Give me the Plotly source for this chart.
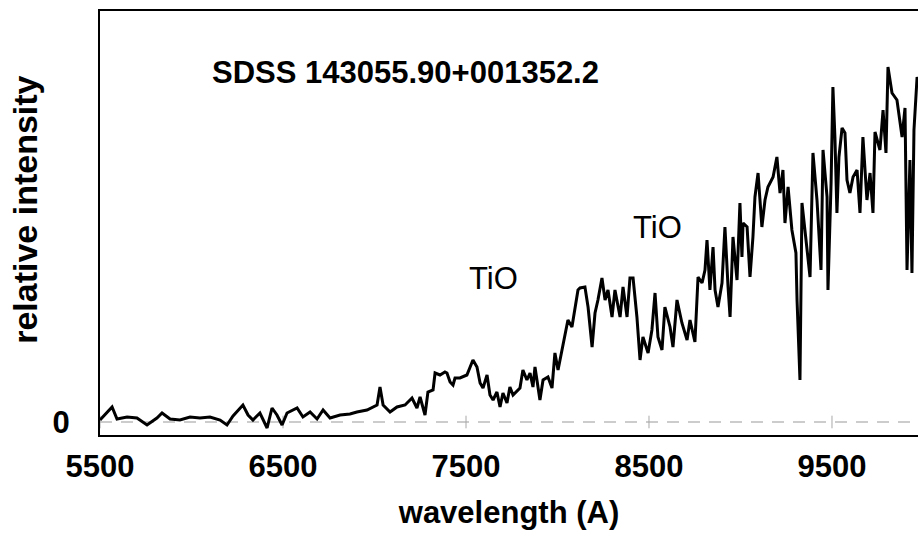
import plotly.graph_objects as go

# Spectrum (wavelength in Angstrom, relative intensity, arbitrary units)
wavelength = [
    5500, 5566, 5593, 5648, 5702, 5757, 5811, 5839, 5883, 5937, 5992, 6046, 6101, 6156, 6194,
    6227, 6281, 6309, 6336, 6374, 6413, 6440, 6467, 6495, 6522, 6577, 6609, 6648, 6686, 6719,
    6757, 6812, 6866, 6904, 6959, 7014, 7030, 7047, 7085, 7123, 7167, 7205, 7232, 7249, 7276,
    7292, 7320, 7331, 7358, 7385, 7396, 7413, 7429, 7440, 7467, 7505, 7538, 7560, 7577, 7593,
    7615, 7631, 7648, 7669, 7686, 7702, 7724, 7740, 7757, 7795, 7811, 7833, 7850, 7866, 7877,
    7904, 7921, 7948, 7970, 7986, 8003, 8025, 8041, 8057, 8079, 8096, 8112, 8123, 8150, 8167,
    8189, 8205, 8221, 8243, 8260, 8276, 8298, 8314, 8342, 8358, 8380, 8396, 8413, 8434, 8451,
    8467, 8495, 8516, 8533, 8549, 8571, 8587, 8615, 8631, 8653, 8680, 8708, 8724, 8751, 8768,
    8790, 8806, 8817, 8833, 8850, 8861, 8877, 8899, 8915, 8932, 8943, 8959, 8981, 8997, 9008,
    9014, 9036, 9052, 9068, 9079, 9096, 9117, 9134, 9150, 9178, 9199, 9216, 9232, 9243, 9260,
    9281, 9303, 9309, 9325, 9336, 9352, 9369, 9380, 9396, 9418, 9440, 9451, 9473, 9478, 9495,
    9505, 9516, 9527, 9538, 9555, 9571, 9582, 9598, 9615, 9637, 9653, 9669, 9691, 9708, 9724,
    9735, 9762, 9779, 9795, 9806, 9828, 9855, 9883, 9899, 9910, 9926, 9937, 9948, 9965, 9985,
]
intensity = [
    0.02, 0.15, 0.03, 0.05, 0.04, -0.03, 0.04, 0.09, 0.03, 0.02, 0.05, 0.04, 0.05, 0.02, -0.03,
    0.06, 0.17, 0.07, 0.02, 0.09, -0.06, 0.14, 0.07, -0.03, 0.09, 0.14, 0.05, 0.10, 0.03, 0.12,
    0.04, 0.07, 0.08, 0.10, 0.12, 0.17, 0.35, 0.17, 0.10, 0.15, 0.17, 0.24, 0.14, 0.25, 0.07,
    0.30, 0.32, 0.49, 0.47, 0.50, 0.49, 0.40, 0.37, 0.44, 0.44, 0.47, 0.62, 0.55, 0.39, 0.34,
    0.47, 0.27, 0.22, 0.30, 0.15, 0.29, 0.19, 0.35, 0.27, 0.34, 0.52, 0.42, 0.49, 0.35, 0.55,
    0.22, 0.42, 0.45, 0.34, 0.69, 0.52, 0.72, 0.85, 1.02, 0.95, 1.12, 1.32, 1.34, 1.35, 1.15,
    0.75, 1.09, 1.22, 1.44, 1.22, 1.32, 1.05, 1.32, 1.05, 1.35, 1.05, 1.44, 1.44, 1.05, 0.62,
    0.85, 0.69, 0.92, 1.29, 0.85, 0.72, 1.15, 0.95, 0.75, 1.22, 0.99, 0.82, 1.02, 0.80, 1.45,
    1.39, 1.52, 1.82, 1.32, 1.75, 1.32, 1.15, 1.39, 1.95, 1.35, 1.05, 1.85, 1.42, 2.19, 1.65,
    1.99, 1.95, 1.45, 1.85, 2.25, 2.49, 1.95, 2.22, 2.35, 2.45, 2.65, 2.29, 2.52, 1.99, 2.35,
    1.92, 1.69, 1.22, 0.42, 2.19, 1.92, 1.67, 1.45, 2.69, 2.22, 1.52, 2.72, 2.25, 1.32, 2.39,
    3.35, 2.85, 2.09, 2.65, 2.94, 2.89, 2.42, 2.29, 2.45, 2.52, 2.09, 2.85, 2.22, 2.49, 2.09,
    2.90, 2.72, 3.12, 2.69, 3.55, 3.29, 3.22, 2.85, 3.14, 1.52, 2.62, 1.49, 2.92, 3.45, 3.30,
]

tick_values = [5500, 6500, 7500, 8500, 9500]
tick_labels = ["5500", "6500", "7500", "8500", "9500"]
band_labels = ["TiO", "TiO"]
band_x = [7653, 8544]
band_y = [1.44, 1.95]
object_name = "SDSS 143055.90+001352.2"
y_title = "relative intensity"
x_title = "wavelength (A)"

x_range = [5500, 9970]
y_range = [-0.13, 4.11]

FONT = "Liberation Sans, Arial, Helvetica, sans-serif"

fig = go.Figure()

# zero reference (dashed)
fig.add_trace(go.Scatter(
    x=x_range, y=[0, 0], mode="lines",
    line=dict(color="#9a9a9a", width=1.2, dash="12px,9px"),
    hoverinfo="skip", showlegend=False,
))
# small tick marks on the zero line
fig.add_trace(go.Scatter(
    x=tick_values, y=[0] * len(tick_values), mode="markers",
    marker=dict(symbol="line-ns-open", size=9, color="#a8a8a8",
                line=dict(color="#a8a8a8", width=1)),
    hoverinfo="skip", showlegend=False,
))
# spectrum
fig.add_trace(go.Scatter(
    x=wavelength, y=intensity, mode="lines",
    line=dict(color="black", width=3),
    showlegend=False,
))

for lab, bx, by in zip(band_labels, band_x, band_y):
    fig.add_annotation(x=bx, y=by, text=lab, showarrow=False,
                       font=dict(family=FONT, size=31, color="black"))

fig.add_annotation(x=0.1345, y=0.855, xref="paper", yref="paper",
                   xanchor="left", yanchor="middle", text="<b>" + object_name + "</b>",
                   showarrow=False, font=dict(family=FONT, size=31, color="black"))

# y-axis title placed as rotated text
fig.add_annotation(x=-0.0917, y=0.531, xref="paper", yref="paper",
                   xanchor="center", yanchor="middle", textangle=-90,
                   text="<b>" + y_title + "</b>", showarrow=False,
                   font=dict(family=FONT, size=34, color="black"))

fig.update_layout(
    width=918, height=537,
    margin=dict(l=100, r=0, t=11, b=102),
    paper_bgcolor="white", plot_bgcolor="white",
    font=dict(family=FONT, color="black"),
    xaxis=dict(
        range=x_range, tickvals=tick_values, ticktext=tick_labels,
        showgrid=False, zeroline=False, showline=True, linecolor="black", linewidth=2,
        mirror=True, ticks="", ticklabelstandoff=3,
        tickfont=dict(family=FONT, size=31, color="black", weight="bold"),
        title=dict(text="<b>" + x_title + "</b>", font=dict(family=FONT, size=31, color="black"),
                   standoff=18),
    ),
    yaxis=dict(
        range=y_range, tickvals=[0], ticktext=["0"],
        showgrid=False, zeroline=False, showline=True, linecolor="black", linewidth=2,
        ticks="", ticklabelstandoff=22,
        tickfont=dict(family=FONT, size=31, color="black", weight="bold"),
    ),
)

fig.write_html(
    "out.html",
    config={"displayModeBar": False},
    post_script="document.body.style.margin='0';document.body.style.overflow='hidden';",
)
